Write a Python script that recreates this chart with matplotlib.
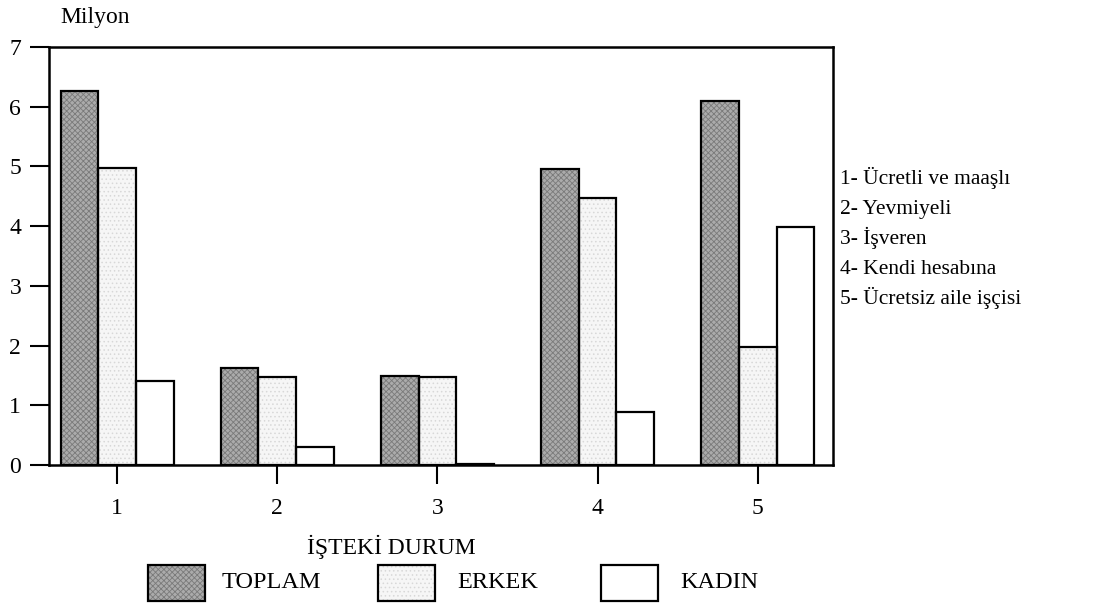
import numpy as np
from matplotlib import pyplot as plt
from matplotlib.patches import Rectangle

plt.rcParams['font.family'] = ['Liberation Serif', 'DejaVu Serif']

# data (milyon kisi)
categories = ["1", "2", "3", "4", "5"]
toplam = [6.26, 1.62, 1.49, 4.95, 6.10]
erkek = [4.98, 1.48, 1.48, 4.47, 1.98]
kadin = [1.41, 0.30, 0.02, 0.88, 3.98]
series_names = ["TOPLAM", "ERKEK", "KADIN"]
y_ticks = [0, 1, 2, 3, 4, 5, 6, 7]
notes = ["1- Ücretli ve maaşlı", "2- Yevmiyeli", "3- İşveren",
         "4- Kendi hesabına", "5- Ücretsiz aile işçisi"]

fills = ["#ababab", "#f6f6f6", "white"]
hatches = ["xxxxxx", "....", None]
hatch_cols = ["#7a7a7a", "#d8d8d8", "white"]

fig = plt.figure(figsize=(10.93, 6.15), dpi=100)
ax = fig.add_axes([49 / 1093, 1 - 465 / 615, (833 - 49) / 1093, (465 - 47) / 615])

x = np.arange(1, len(categories) + 1)
w = 0.235
for i, vals in enumerate([toplam, erkek, kadin]):
    pos = x + (i - 1) * w
    # texture layer
    plt.rcParams['hatch.color'] = hatch_cols[i]
    plt.rcParams['hatch.linewidth'] = 0.6
    ax.bar(pos, vals, w, color=fills[i], hatch=hatches[i], edgecolor=hatch_cols[i],
           linewidth=0, zorder=2)
    # outline layer
    ax.bar(pos, vals, w, facecolor="none", edgecolor="black", linewidth=1.6, zorder=3)

ax.set_xlim(0.575, 5.47)
ax.set_ylim(0, 7)
ax.set_yticks(y_ticks)
ax.set_xticks(x)
ax.set_xticklabels(categories)
ax.tick_params(axis="both", direction="out", length=14, width=1.5, labelsize=17)
ax.tick_params(axis="x", pad=10)
ax.tick_params(axis="y", pad=6)
for s in ax.spines.values():
    s.set_linewidth(1.8)

fig.text(60 / 1093, 1 - 18 / 615, "Milyon", fontsize=17, ha="left", va="center")
fig.text(391 / 1093, 1 - 547 / 615, "İŞTEKİ DURUM", fontsize=17, ha="center", va="center")

# notes on right
for k, t in enumerate(notes):
    fig.text(840 / 1093, 1 - (184 + 30 * k) / 615, t, fontsize=15.5, ha="left", va="baseline")

# legend drawn by hand at the bottom
leg_x = [148, 378, 601]
text_x = [222, 457, 680]
for i, name in enumerate(series_names):
    r = Rectangle((leg_x[i] / 1093, 1 - 601 / 615), 57 / 1093, 36 / 615,
                  transform=fig.transFigure, facecolor=fills[i], hatch=hatches[i],
                  edgecolor=hatch_cols[i], linewidth=0)
    fig.add_artist(r)
    r2 = Rectangle((leg_x[i] / 1093, 1 - 601 / 615), 57 / 1093, 36 / 615,
                   transform=fig.transFigure, facecolor="none", edgecolor="black",
                   linewidth=1.6)
    fig.add_artist(r2)
    fig.text(text_x[i] / 1093, 1 - 583 / 615, name, fontsize=17.5, ha="left", va="center")

fig.savefig("out.png", dpi=100)
